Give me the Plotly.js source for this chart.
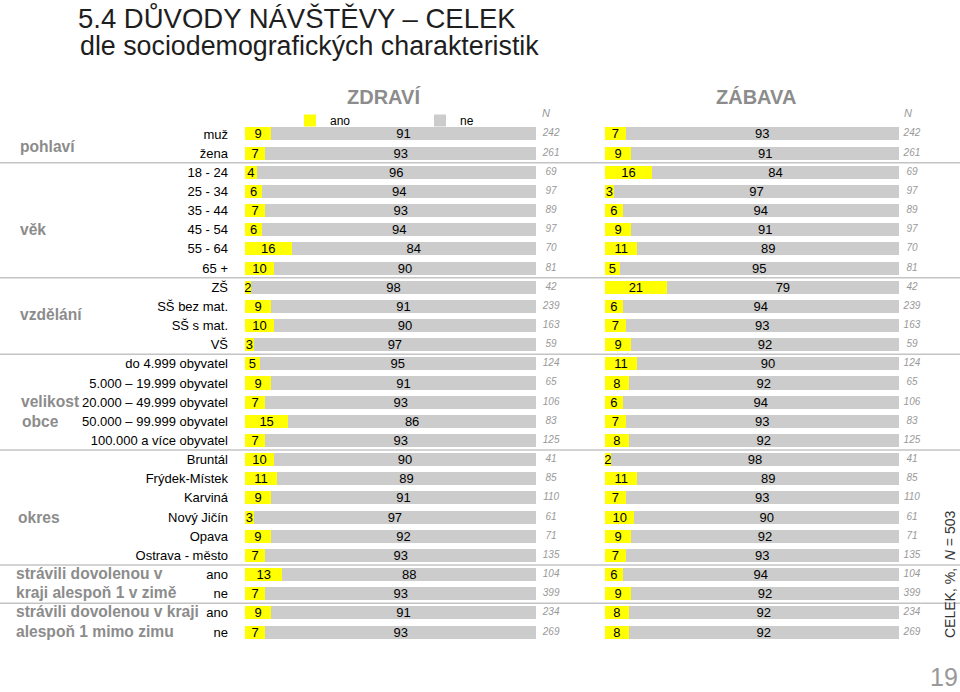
<!DOCTYPE html>
<html>
<head>
<meta charset="utf-8">
<script src="https://cdn.plot.ly/plotly-3.0.1.min.js"></script>
<style>html,body{margin:0;padding:0;background:#fff}#chart{width:960px;height:692px}</style>
</head>
<body>
<div id="chart"></div>
<script>
// ---- data ----
const categories = ["muž","žena","18 - 24","25 - 34","35 - 44","45 - 54","55 - 64","65 +","ZŠ","SŠ bez mat.","SŠ s mat.","VŠ","do 4.999 obyvatel","5.000 – 19.999 obyvatel","20.000 – 49.999 obyvatel","50.000 – 99.999 obyvatel","100.000 a více obyvatel","Bruntál","Frýdek-Místek","Karviná","Nový Jičín","Opava","Ostrava - město","ano","ne","ano","ne"];
const zdraviAno = [9,7,4,6,7,6,16,10,2,9,10,3,5,9,7,15,7,10,11,9,3,9,7,13,7,9,7];
const zdraviNe  = [91,93,96,94,93,94,84,90,98,91,90,97,95,91,93,86,93,90,89,91,97,92,93,88,93,91,93];
const zabavaAno = [7,9,16,3,6,9,11,5,21,6,7,9,11,8,6,7,8,2,11,7,10,9,7,6,9,8,8];
const zabavaNe  = [93,91,84,97,94,91,89,95,79,94,93,92,90,92,94,93,92,98,89,93,90,92,93,94,92,92,92];
const nValues   = [242,261,69,97,89,97,70,81,42,239,163,59,124,65,106,83,125,41,85,110,61,71,135,104,399,234,269];
const seriesNames = ["ano","ne"];
const panelTitles = ["ZDRAVÍ","ZÁBAVA"];
const groupLabels = ["pohlaví","věk","vzdělání","velikost","obce","okres","strávili dovolenou v","kraji alespoň 1 v zimě","strávili dovolenou v kraji","alespoň 1 mimo zimu"];

// ---- layout helpers ----
const FONT = "Liberation Sans, Arial, sans-serif";
const W = 960, H = 692;
const idx = categories.map((_, i) => i);
const YEL = "#ffff00", GRY = "#cccccc";

function barTrace(vals, name, color, xa, showLeg) {
  return {
    type: "bar", orientation: "h", x: vals, y: idx, name: name,
    xaxis: xa, yaxis: "y", marker: {color: color, line: {width: 0}},
    text: vals.map(String), textposition: "inside", insidetextanchor: "middle",
    textangle: 0, textfont: {family: FONT, size: 13, color: "#000"},
    showlegend: showLeg, hoverinfo: "x+y", cliponaxis: false
  };
}
function nTrace(xa, xpos) {
  return {
    type: "scatter", mode: "text", x: nValues.map(() => xpos), y: idx,
    text: nValues.map(String), xaxis: xa, yaxis: "y",
    textfont: {family: FONT, size: 10, color: "#999"},
    texttemplate: "<i>%{text}</i>", showlegend: false, hoverinfo: "skip", cliponaxis: false
  };
}

const data = [
  barTrace(zdraviAno, seriesNames[0], YEL, "x", true),
  barTrace(zdraviNe, seriesNames[1], GRY, "x", true),
  barTrace(zabavaAno, seriesNames[0], YEL, "x2", false),
  barTrace(zabavaNe, seriesNames[1], GRY, "x2", false),
  nTrace("x", 105.2),
  nTrace("x2", 104.4)
];

const py = p => 1 - p / H;   // pixel y -> paper
const px = p => p / W;       // pixel x -> paper

const sepRows = [1.5, 7.5, 11.5, 16.5, 22.5, 24.5];
const shapes = sepRows.map(r => ({
  type: "line", xref: "paper", x0: 0, x1: 1, yref: "y", y0: r, y1: r,
  line: {color: "#c4c4c4", width: 1.5}, layer: "above"
}));

const groupPos = [
  [18, 0.65], [18, 5.0], [18, 9.4], [19, 13.95], [20, 15.0], [16, 20.0],
  [14, 22.95], [14, 23.95], [14, 24.95], [14, 25.95]
];
const annotations = groupLabels.map((t, i) => ({
  text: t, xref: "paper", yref: "y", x: px(groupPos[i][0]), y: groupPos[i][1],
  xanchor: "left", yanchor: "middle", showarrow: false,
  font: {family: FONT, size: 15.6, color: "#8c8c8c", weight: "bold"}
}));
annotations.push(
  {text: "dle sociodemografických charakteristik", xref: "paper", yref: "paper",
   x: px(78), y: py(46), xanchor: "left", yanchor: "middle", showarrow: false,
   font: {family: FONT, size: 26.8, color: "#1e1e1e"}},
  {text: panelTitles[0], xref: "paper", yref: "paper", x: px(383), y: py(97),
   xanchor: "center", yanchor: "middle", showarrow: false,
   font: {family: FONT, size: 20, color: "#8c8c8c", weight: "bold"}},
  {text: panelTitles[1], xref: "paper", yref: "paper", x: px(756), y: py(97),
   xanchor: "center", yanchor: "middle", showarrow: false,
   font: {family: FONT, size: 20, color: "#8c8c8c", weight: "bold"}},
  {text: "<i>N</i>", xref: "paper", yref: "paper", x: px(546), y: py(113),
   xanchor: "center", yanchor: "middle", showarrow: false,
   font: {family: FONT, size: 11, color: "#999"}},
  {text: "<i>N</i>", xref: "paper", yref: "paper", x: px(908), y: py(113),
   xanchor: "center", yanchor: "middle", showarrow: false,
   font: {family: FONT, size: 11, color: "#999"}},
  {text: "CELEK, %,  <i>N</i> = 503", xref: "paper", yref: "paper", x: px(950), y: py(575),
   xanchor: "center", yanchor: "middle", textangle: -90, showarrow: false,
   font: {family: FONT, size: 14, color: "#333"}},
  {text: "19", xref: "paper", yref: "paper", x: px(944), y: py(677),
   xanchor: "center", yanchor: "middle", showarrow: false,
   font: {family: FONT, size: 25, color: "#999"}}
);

const layout = {
  width: W, height: H,
  margin: {l: 0, r: 0, t: 0, b: 0},
  paper_bgcolor: "#fff", plot_bgcolor: "rgba(0,0,0,0)",
  font: {family: FONT, size: 13, color: "#000"},
  title: {text: "5.4 DŮVODY NÁVŠTĚVY – CELEK", x: px(78), xanchor: "left",
          y: py(18), yanchor: "middle", xref: "container", yref: "container",
          font: {family: FONT, size: 27.5, color: "#1e1e1e"}},
  barmode: "stack", barnorm: "percent", bargap: 0.32,
  uniformtext: {mode: "show", minsize: 13},
  xaxis: {domain: [px(245), px(245 + 2.91 * 110)], range: [0, 110], visible: false, fixedrange: true},
  xaxis2: {domain: [px(605), px(605 + 2.94 * 110)], range: [0, 110], visible: false, fixedrange: true, anchor: "y"},
  yaxis: {domain: [py(641.6), py(124.4)], range: [26.5, -0.5], tickvals: idx, ticktext: categories,
          showgrid: false, zeroline: false, showline: false, ticks: "", ticklabelstandoff: 16,
          tickfont: {family: FONT, size: 13, color: "#000"}, anchor: "x", fixedrange: true},
  legend: {orientation: "h", x: px(290), y: py(106), xanchor: "left", yanchor: "top",
           traceorder: "normal",
           entrywidth: 85, entrywidthmode: "pixels", font: {family: FONT, size: 12, color: "#000"},
           bgcolor: "rgba(0,0,0,0)", itemclick: false, itemdoubleclick: false,
           tracegroupgap: 0},
  shapes: shapes,
  annotations: annotations,
  showlegend: true
};

Plotly.newPlot("chart", data, layout, {displayModeBar: false, staticPlot: true});
</script>
</body>
</html>
